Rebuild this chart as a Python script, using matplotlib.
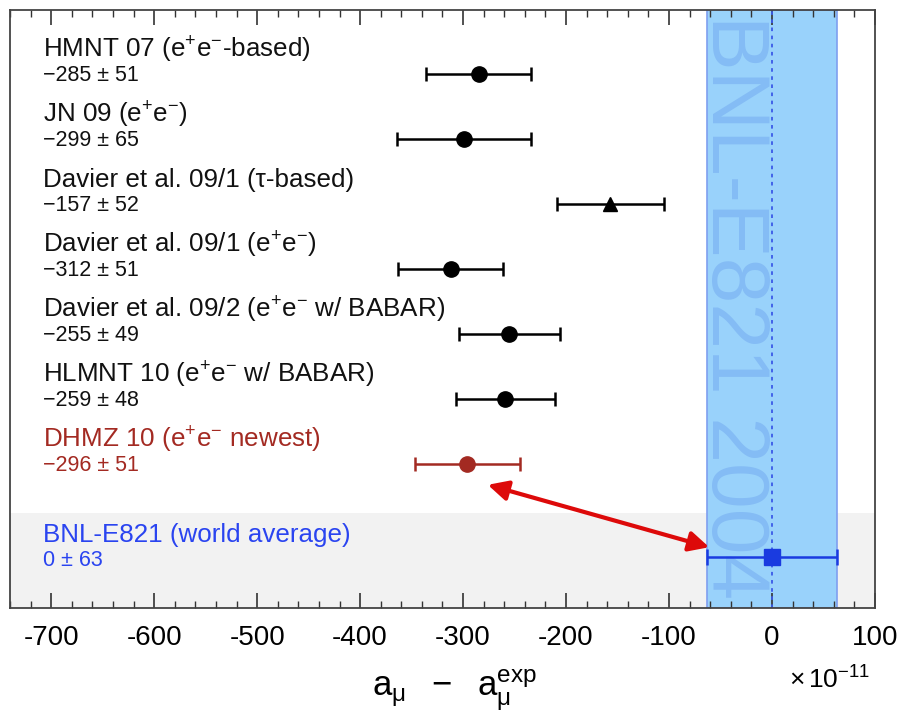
import matplotlib
matplotlib.use("Agg")
import matplotlib.pyplot as plt
from matplotlib.ticker import MultipleLocator
import numpy as np

plt.rcParams["font.family"] = ["Liberation Sans", "DejaVu Sans"]
plt.rcParams["mathtext.fontset"] = "custom"
plt.rcParams["mathtext.rm"] = "Liberation Sans"
plt.rcParams["mathtext.it"] = "Liberation Sans:italic"
plt.rcParams["mathtext.default"] = "regular"

# evaluations of a_mu(SM) - a_mu(exp), units of 1e-11
names = [
    "HMNT 07 (e$^{+}$e$^{-}$-based)",
    "JN 09 (e$^{+}$e$^{-}$)",
    "Davier et al. 09/1 (\u03c4-based)",
    "Davier et al. 09/1 (e$^{+}$e$^{-}$)",
    "Davier et al. 09/2 (e$^{+}$e$^{-}$ w/ BABAR)",
    "HLMNT 10 (e$^{+}$e$^{-}$ w/ BABAR)",
    "DHMZ 10 (e$^{+}$e$^{-}$ newest)",
]
values = [-285, -299, -157, -312, -255, -259, -296]
errors = [51, 65, 52, 51, 49, 48, 51]
markers = ["o", "o", "^", "o", "o", "o", "o"]
colors = ["black"] * 6 + ["#a32a22"]

bnl_name = "BNL-E821 (world average)"
bnl_value = 0
bnl_error = 63

BLUE = "#1a3be0"
BAND = "#99d2fb"

fig = plt.figure(figsize=(8.99, 7.25), dpi=100)
ax = fig.add_axes([0.0111, 0.1614, 0.9622, 0.8248])

rows = np.arange(len(values))
bnl_row = len(values) + 0.43

# grey strip for the experimental result
ax.axhspan(bnl_row - 0.68, 9, color="#f2f2f2", zorder=0, lw=0)
# experimental band
ax.axvspan(bnl_value - bnl_error, bnl_value + bnl_error, facecolor=BAND,
           edgecolor="#7f9ff0", lw=1.2, zorder=1)
ax.axvline(bnl_value, color="#3a5ae8", ls=(0, (2, 2.5)), lw=1.3, zorder=2)
ax.text(bnl_value - bnl_error / 2 - 6, 3.58, "BNL-E821 2004",
        rotation=-90, ha="center", va="center", fontsize=59,
        color="#84bcf5", zorder=2)

for i in rows:
    ax.errorbar(values[i], i, xerr=errors[i], fmt=markers[i], color=colors[i],
                ms=11 if markers[i] == "o" else 10, capsize=5, capthick=1.8,
                elinewidth=1.8, zorder=5)
    ax.text(-708, i - 0.37, names[i], ha="left", va="center", fontsize=18.7,
            color=colors[i] if i == 6 else "#111111")
    ax.text(-708, i + 0.03, "\u2212%d \u00b1 %d" % (-values[i], errors[i]),
            ha="left", va="center", fontsize=15.5,
            color=colors[i] if i == 6 else "#111111")

ax.errorbar(bnl_value, bnl_row, xerr=bnl_error, fmt="s", color=BLUE, ms=11,
            capsize=6, capthick=1.8, elinewidth=1.8, zorder=5)
ax.text(-708, bnl_row - 0.34, bnl_name, ha="left", va="center", fontsize=18.7,
        color="#2a44f0")
ax.text(-708, bnl_row + 0.05, "%d \u00b1 %d" % (bnl_value, bnl_error),
        ha="left", va="center", fontsize=15.5, color="#2a44f0")

# arrow linking newest evaluation to experiment
ax.annotate("", xy=(bnl_value - bnl_error + 2, bnl_row - 0.15),
            xytext=(values[6] + 20, rows[6] + 0.32),
            arrowprops=dict(arrowstyle="<|-|>", color="#dd0a0a", lw=3,
                            mutation_scale=30, shrinkA=0, shrinkB=0), zorder=6)

ax.set_xlim(-740, 100)
ax.set_ylim(8.215, -0.985)
ax.set_yticks([])
ax.xaxis.set_major_locator(MultipleLocator(100))
ax.xaxis.set_minor_locator(MultipleLocator(20))
ax.tick_params(axis="x", which="major", direction="in", length=11, width=1.2,
               top=True, color="#333333", pad=12)
ax.tick_params(axis="x", which="minor", direction="in", length=5, width=1.0,
               top=True, color="#333333")
ax.set_xticks(np.arange(-700, 101, 100))
ax.set_xticklabels(["%d" % v for v in range(-700, 101, 100)], fontsize=20)
for s in ax.spines.values():
    s.set_color("#444444")
    s.set_linewidth(1.3)

fig.text(0.506, 0.048, r"$a_{\mu}\ \ -\ \ a_{\mu}^{exp}$", ha="center",
         va="center", fontsize=25)
fig.text(0.968, 0.062, r"$\times\,10^{-11}$", ha="right", va="center",
         fontsize=19)

fig.savefig("out.png", dpi=100)
